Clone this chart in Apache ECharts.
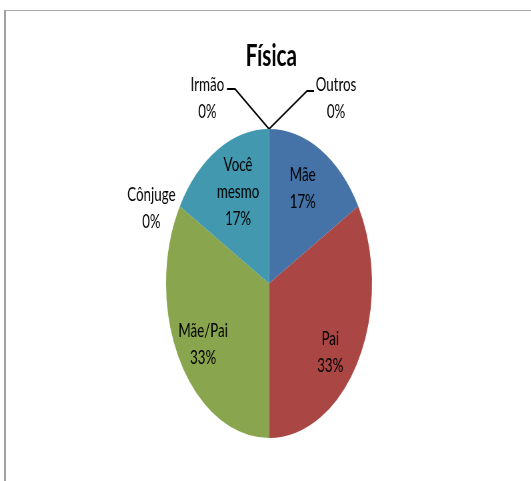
<!DOCTYPE html>
<html>
<head>
<meta charset="utf-8">
<script src="https://cdn.jsdelivr.net/npm/echarts@6/dist/echarts.min.js"></script>
<style>
  html, body { margin: 0; padding: 0; background: #ffffff; }
  body { width: 531px; height: 481px; position: relative; overflow: hidden; }
  #frame { position: absolute; left: 4px; top: 10px; right: 0; bottom: 0;
           border-left: 2px solid #a0a0a0; border-top: 1px solid #a8a8a8; }
  #chart { position: absolute; left: 0; top: 0; width: 797px; height: 481px;
           transform: scaleX(0.6667); transform-origin: 0 0; }
</style>
</head>
<body>
<div id="frame"></div>
<div id="chart"></div>
<script>
// ---- data ----
const titleText = 'Física';
const categories = ['Mãe', 'Pai', 'Mãe/Pai', 'Cônjuge', 'Você mesmo', 'Irmão', 'Outros'];
const values = [1, 2, 2, 0, 1, 0, 0];
const colors = ['#4572A7', '#AA4643', '#89A54E', '#71588F', '#4198AF', '#DB843D', '#93A9CF'];

// ---- layout (unscaled canvas coords; the canvas is squeezed horizontally by CSS) ----
const CX = 403.5, CY = 283.5, R = 154.5;
const FONT = 'Lato, "Noto Sans", sans-serif';

// offsets of the zero-value labels from their slice's edge point
const zeroLabelPlacement = {
  3: { dx: -42.7, dy: 2, line: null },
  5: { dx: -92.5, dy: -31, line: [[-51, -40], [-63, -40]] },
  6: { dx: 100.5, dy: -31, line: [[57, -38], [67.5, -38]] }
};
// small nudges of the inside labels (Excel best-fit placement)
const insideLabelNudge = { 0: [-6, 2], 1: [-6, 12], 2: [-1, 4], 4: [10, 6] };

const total = values.reduce((a, b) => a + b, 0);
function edgePoint(i) {
  let before = 0;
  for (let k = 0; k < i; k++) before += values[k];
  const th = before / total * Math.PI * 2;
  return [CX + R * Math.sin(th), CY - R * Math.cos(th)];
}

const labelText = { fontFamily: FONT, fontSize: 20, lineHeight: 27, color: '#000000' };

const mainData = categories.map((name, i) => ({
  name: name,
  value: values[i],
  itemStyle: { color: colors[i] },
  label: { show: values[i] === 0 },
  labelLine: { show: values[i] === 0 && zeroLabelPlacement[i] && !!zeroLabelPlacement[i].line }
}));

const labelData = categories.map((name, i) => ({
  name: name,
  value: values[i],
  label: { show: values[i] !== 0 }
}));

const chart = echarts.init(document.getElementById('chart'), null, { renderer: 'canvas' });
chart.setOption({
  animation: false,
  backgroundColor: 'transparent',
  title: {
    text: titleText,
    left: 402,
    top: 35,
    textAlign: 'center',
    textStyle: { fontFamily: FONT, fontWeight: 'bold', fontSize: 31, color: '#000000' }
  },
  series: [
    {
      type: 'pie',
      center: [CX, CY],
      radius: R,
      startAngle: 90,
      clockwise: true,
      avoidLabelOverlap: false,
      percentPrecision: 0,
      silent: true,
      itemStyle: { borderWidth: 0 },
      label: Object.assign({ position: 'outside', formatter: '{b}\n{d}%' }, labelText),
      labelLine: { length: 0, length2: 0, lineStyle: { color: '#000000', width: 2 } },
      labelLayout: function (params) {
        const o = zeroLabelPlacement[params.dataIndex];
        if (!o) return {};
        const p = edgePoint(params.dataIndex);
        const res = { x: p[0] + o.dx, y: p[1] + o.dy, align: 'center', verticalAlign: 'middle' };
        if (o.line) {
          res.labelLinePoints = [p, [p[0] + o.line[0][0], p[1] + o.line[0][1]], [p[0] + o.line[1][0], p[1] + o.line[1][1]]];
        }
        return res;
      },
      data: mainData
    },
    {
      type: 'pie',
      center: [CX, CY],
      radius: [65.5, R],
      startAngle: 90,
      clockwise: true,
      avoidLabelOverlap: false,
      percentPrecision: 0,
      silent: true,
      itemStyle: { color: 'rgba(0,0,0,0)', borderWidth: 0 },
      label: Object.assign({
        position: 'inside',
        formatter: function (p) { return p.name.replace(' ', '\n') + '\n' + p.percent + '%'; }
      }, labelText),
      labelLine: { show: false },
      labelLayout: function (params) {
        const n = insideLabelNudge[params.dataIndex];
        return n ? { dx: n[0], dy: n[1] } : {};
      },
      emphasis: { disabled: true },
      data: labelData
    }
  ]
});
</script>
</body>
</html>
